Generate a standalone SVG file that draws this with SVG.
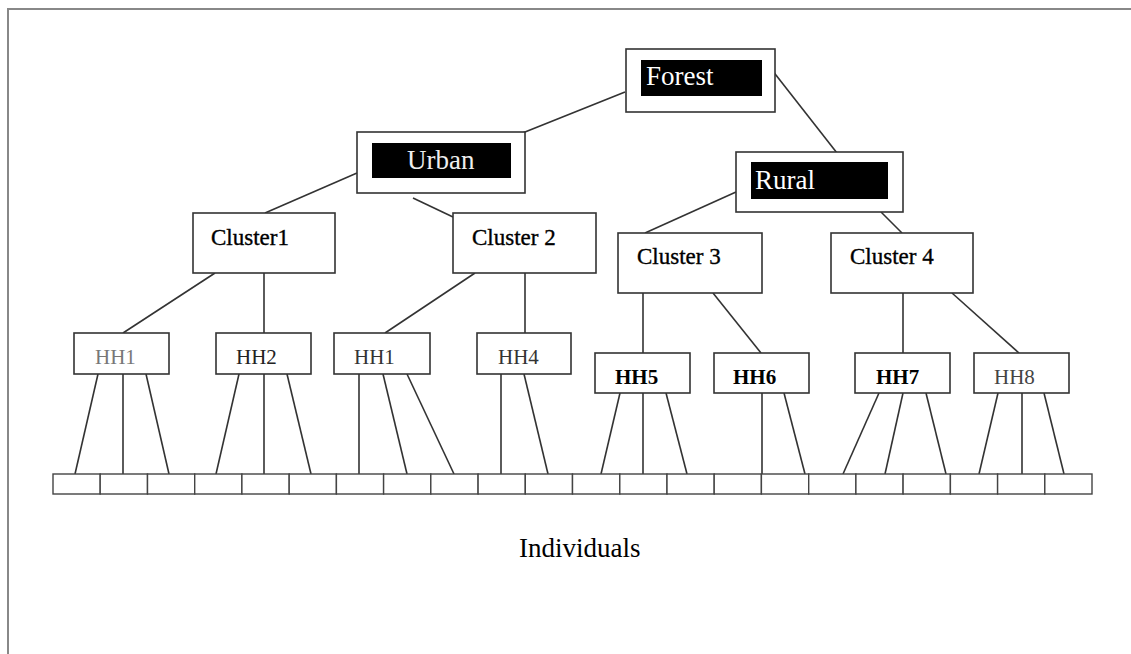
<svg xmlns="http://www.w3.org/2000/svg" width="1131" height="654" viewBox="0 0 1131 654">
<style>
.box{fill:#fff;stroke:#333;stroke-width:1.6}
.blk{fill:#000}
.ln{stroke:#333;stroke-width:1.6;fill:none}
.t{font-family:"Liberation Serif","Times New Roman",serif;fill:#000}
.w{fill:#fff;font-size:27px}
.cl{font-size:23px;stroke:#000;stroke-width:0.35}
.hh{font-size:21px}
.b{font-weight:bold}
.ind{fill:#fff;stroke:#444;stroke-width:1.4}
</style>
<rect width="1131" height="654" fill="#fff"/>
<path d="M8,654 V9 H1131" fill="none" stroke="#888" stroke-width="2"/>
<g id="connectors" class="ln">
<line x1="625" y1="92" x2="520" y2="134"/>
<line x1="772" y1="70" x2="837" y2="153"/>
<line x1="357" y1="173" x2="265" y2="213"/>
<line x1="413" y1="198" x2="453" y2="217"/>
<line x1="736" y1="192" x2="645" y2="233"/>
<line x1="881" y1="212" x2="902" y2="233"/>
<line x1="215" y1="273" x2="123" y2="333"/>
<line x1="264" y1="273" x2="264" y2="333"/>
<line x1="475" y1="273" x2="385" y2="333"/>
<line x1="525" y1="273" x2="525" y2="333"/>
<line x1="643" y1="293" x2="643" y2="353"/>
<line x1="713" y1="293" x2="761" y2="353"/>
<line x1="903" y1="293" x2="903" y2="353"/>
<line x1="952" y1="293" x2="1019" y2="353"/>
<line x1="98" y1="374" x2="75" y2="474"/>
<line x1="123" y1="374" x2="123" y2="474"/>
<line x1="146" y1="374" x2="169" y2="474"/>
<line x1="239" y1="374" x2="216" y2="474"/>
<line x1="264" y1="374" x2="264" y2="474"/>
<line x1="287" y1="374" x2="311" y2="474"/>
<line x1="359" y1="374" x2="359" y2="474"/>
<line x1="383" y1="374" x2="407" y2="474"/>
<line x1="407" y1="374" x2="454" y2="474"/>
<line x1="501" y1="374" x2="501" y2="474"/>
<line x1="524" y1="374" x2="548" y2="474"/>
<line x1="620" y1="393" x2="601" y2="474"/>
<line x1="643" y1="393" x2="643" y2="474"/>
<line x1="666" y1="393" x2="687" y2="474"/>
<line x1="762" y1="393" x2="762" y2="474"/>
<line x1="784" y1="393" x2="805" y2="474"/>
<line x1="879" y1="393" x2="843" y2="474"/>
<line x1="903" y1="393" x2="885" y2="474"/>
<line x1="926" y1="393" x2="946" y2="474"/>
<line x1="998" y1="393" x2="979" y2="474"/>
<line x1="1022" y1="393" x2="1022" y2="474"/>
<line x1="1044" y1="393" x2="1064" y2="474"/>
</g>
<g id="forest"><rect class="box" x="626" y="49" width="149" height="63"/><rect class="blk" x="641" y="60" width="121" height="36"/><text class="t w" x="646" y="85">Forest</text></g>
<g id="urban"><rect class="box" x="357" y="132" width="168" height="61"/><rect class="blk" x="372" y="143" width="139" height="35"/><text class="t w" x="407" y="169" style="fill:#eee">Urban</text></g>
<g id="rural"><rect class="box" x="736" y="152" width="167" height="60"/><rect class="blk" x="751" y="162" width="137" height="37"/><text class="t w" x="755" y="189" font-size="28">Rural</text></g>
<g id="cluster1"><rect class="box" x="193" y="213" width="142" height="60"/><text class="t cl" x="211" y="245">Cluster1</text></g>
<g id="cluster2"><rect class="box" x="453" y="213" width="143" height="60"/><text class="t cl" x="472" y="245">Cluster 2</text></g>
<g id="cluster3"><rect class="box" x="618" y="233" width="144" height="60"/><text class="t cl" x="637" y="264">Cluster 3</text></g>
<g id="cluster4"><rect class="box" x="831" y="233" width="142" height="60"/><text class="t cl" x="850" y="264">Cluster 4</text></g>
<g id="hh1"><rect class="box" x="74" y="333" width="95" height="41"/><text class="t hh" x="95" y="364" style="fill:#777">HH1</text></g>
<g id="hh2"><rect class="box" x="216" y="333" width="95" height="41"/><text class="t hh" x="236" y="364" style="fill:#222">HH2</text></g>
<g id="hh1b"><rect class="box" x="334" y="333" width="96" height="41"/><text class="t hh" x="354" y="364" style="fill:#333">HH1</text></g>
<g id="hh4"><rect class="box" x="477" y="333" width="94" height="41"/><text class="t hh" x="498" y="364" style="fill:#333">HH4</text></g>
<g id="hh5"><rect class="box" x="595" y="353" width="95" height="40"/><text class="t hh b" x="615" y="384">HH5</text></g>
<g id="hh6"><rect class="box" x="714" y="353" width="95" height="40"/><text class="t hh b" x="733" y="384">HH6</text></g>
<g id="hh7"><rect class="box" x="855" y="353" width="95" height="40"/><text class="t hh b" x="876" y="384">HH7</text></g>
<g id="hh8"><rect class="box" x="974" y="353" width="95" height="40"/><text class="t hh" x="994" y="384" style="fill:#444">HH8</text></g>
<g id="individuals">
<rect class="ind" x="53" y="474" width="47.2" height="20"/>
<rect class="ind" x="100.2" y="474" width="47.3" height="20"/>
<rect class="ind" x="147.5" y="474" width="47.2" height="20"/>
<rect class="ind" x="194.7" y="474" width="47.2" height="20"/>
<rect class="ind" x="241.9" y="474" width="47.3" height="20"/>
<rect class="ind" x="289.2" y="474" width="47.2" height="20"/>
<rect class="ind" x="336.4" y="474" width="47.2" height="20"/>
<rect class="ind" x="383.6" y="474" width="47.2" height="20"/>
<rect class="ind" x="430.8" y="474" width="47.3" height="20"/>
<rect class="ind" x="478.1" y="474" width="47.2" height="20"/>
<rect class="ind" x="525.3" y="474" width="47.2" height="20"/>
<rect class="ind" x="572.5" y="474" width="47.3" height="20"/>
<rect class="ind" x="619.8" y="474" width="47.2" height="20"/>
<rect class="ind" x="667" y="474" width="47.2" height="20"/>
<rect class="ind" x="714.2" y="474" width="47.2" height="20"/>
<rect class="ind" x="761.4" y="474" width="47.3" height="20"/>
<rect class="ind" x="808.7" y="474" width="47.2" height="20"/>
<rect class="ind" x="855.9" y="474" width="47.2" height="20"/>
<rect class="ind" x="903.1" y="474" width="47.3" height="20"/>
<rect class="ind" x="950.4" y="474" width="47.2" height="20"/>
<rect class="ind" x="997.6" y="474" width="47.2" height="20"/>
<rect class="ind" x="1044.8" y="474" width="47.2" height="20"/>
<text class="t" x="519" y="557" font-size="27">Individuals</text>
</g>
</svg>
